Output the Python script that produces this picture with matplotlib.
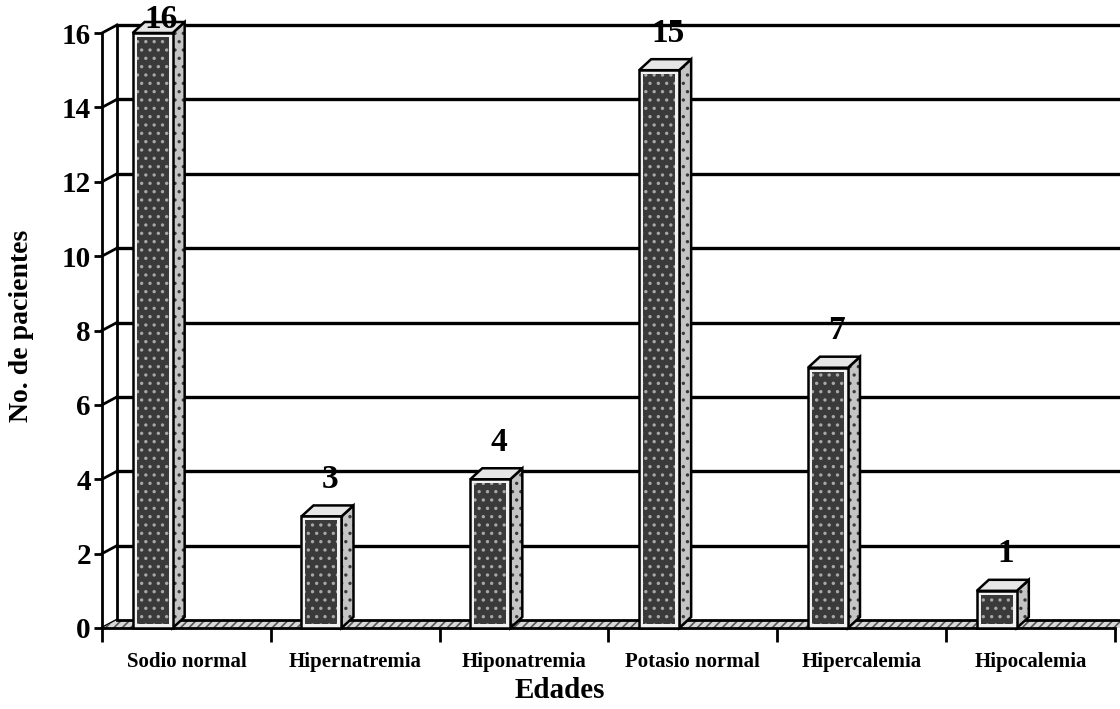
import matplotlib.pyplot as plt
from matplotlib.patches import Polygon, Rectangle

plt.rcParams['font.family'] = ['Liberation Serif', 'DejaVu Serif']
plt.rcParams['font.weight'] = 'bold'
plt.rcParams['hatch.linewidth'] = 1.2

# datos
categorias = ['Sodio normal', 'Hipernatremia', 'Hiponatremia',
              'Potasio normal', 'Hipercalemia', 'Hipocalemia']
pacientes = [16, 3, 4, 15, 7, 1]
yticks = [0, 2, 4, 6, 8, 10, 12, 14, 16]

fig = plt.figure(figsize=(11.2, 7.09), dpi=100)
ax = fig.add_axes([102 / 1120, 81 / 709, 1013 / 1120, 595 / 709])
ax.set_xlim(-0.5, 5.5)
ax.set_ylim(0, 16)

# pixeles -> unidades de datos
sx = 1 / 168.8
sy = 16 / 595
wall_dx, wall_dy = 15 * sx, 8 * sy
bar_dx, bar_dy = 12 * sx, 11 * sy
ancho = 0.237
x_fin = 5.56

# pared del fondo y lineas de division
for v in yticks:
    ax.plot([-0.5, -0.5 + wall_dx], [v, v + wall_dy], color='black', lw=2,
            clip_on=False, zorder=1)
    if v > 0:
        ax.plot([-0.5 + wall_dx, x_fin], [v + wall_dy, v + wall_dy],
                color='black', lw=2.4, clip_on=False, zorder=1)
ax.plot([-0.5 + wall_dx, -0.5 + wall_dx], [wall_dy, 16 + wall_dy],
        color='black', lw=2, clip_on=False, zorder=1)

# piso
piso = Polygon([(-0.5, 0), (-0.5 + wall_dx, wall_dy), (x_fin, wall_dy), (x_fin, 0)],
               closed=True, facecolor='#d8d8d8', edgecolor='#555555', hatch='////',
               lw=0, clip_on=False, zorder=1)
ax.add_patch(piso)
ax.plot([-0.5 + wall_dx, x_fin], [wall_dy, wall_dy], color='black', lw=2,
        clip_on=False, zorder=1)

# barras 3D
for i, v in enumerate(pacientes):
    x0 = i - 0.2 - ancho / 2
    lado = Polygon([(x0 + ancho, 0), (x0 + ancho + bar_dx, bar_dy),
                    (x0 + ancho + bar_dx, v + bar_dy), (x0 + ancho, v)],
                   closed=True, facecolor='#c4c4c4', edgecolor='#3a3a3a', hatch='..',
                   lw=0, clip_on=False, zorder=3)
    ax.add_patch(lado)
    ax.add_patch(Polygon([(x0 + ancho, 0), (x0 + ancho + bar_dx, bar_dy),
                          (x0 + ancho + bar_dx, v + bar_dy), (x0 + ancho, v)],
                         closed=True, fill=False, edgecolor='black', lw=1.8,
                         clip_on=False, zorder=3))
    tapa = Polygon([(x0, v), (x0 + bar_dx, v + bar_dy),
                    (x0 + ancho + bar_dx, v + bar_dy), (x0 + ancho, v)],
                   closed=True, facecolor='#e6e6e6', edgecolor='black', lw=1.8,
                   clip_on=False, zorder=3)
    ax.add_patch(tapa)
    frente = Rectangle((x0, 0), ancho, v, facecolor='#f2f2f2', edgecolor='black',
                       lw=1.8, clip_on=False, zorder=4)
    ax.add_patch(frente)
    interior = Rectangle((x0 + 4 * sx, 4 * sy), ancho - 8 * sx, v - 8 * sy,
                         facecolor='#3a3a3a', edgecolor='#a8a8a8', hatch='..',
                         lw=0, clip_on=False, zorder=5)
    ax.add_patch(interior)
    ax.text(i - 0.15, min(v + 1.0, 16.35), str(v), ha='center', va='center',
            fontsize=24, fontweight='bold', zorder=6, clip_on=False)

# ejes
ax.set_xticks([i - 0.5 for i in range(len(categorias) + 1)])
ax.set_xticklabels([])
ax.set_xticks(range(len(categorias)), minor=True)
ax.set_xticklabels(categorias, minor=True, fontsize=15, fontweight='bold')
ax.tick_params(axis='x', which='major', length=10, width=2, direction='out')
ax.tick_params(axis='x', which='minor', length=0, pad=17)
ax.set_yticks(yticks)
ax.set_yticklabels([str(t) for t in yticks], fontsize=21, fontweight='bold')
ax.tick_params(axis='y', length=6, width=2, pad=2)

for lado_eje in ['top', 'right']:
    ax.spines[lado_eje].set_visible(False)
for lado_eje in ['left', 'bottom']:
    ax.spines[lado_eje].set_linewidth(2)
    ax.spines[lado_eje].set_zorder(2)

fig.text(22 / 1120, 1 - 326 / 709, 'No. de pacientes', rotation=90,
         ha='center', va='center', fontsize=20, fontweight='bold')
fig.text(560 / 1120, 1 - 691 / 709, 'Edades', ha='center', va='center',
         fontsize=21, fontweight='bold')

fig.savefig('out.png', dpi=100)
